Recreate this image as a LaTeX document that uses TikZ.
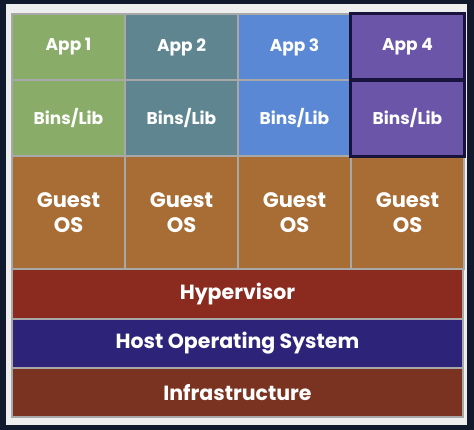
\documentclass[tikz,border=0pt]{standalone}
\usepackage{fontspec}
\setmainfont{Poppins}
\definecolor{navy}{HTML}{111A2C}
\definecolor{panel}{HTML}{EEEEEE}
\definecolor{grid}{HTML}{A8A8A8}
\definecolor{cA}{HTML}{89AC69}
\definecolor{cB}{HTML}{5F8690}
\definecolor{cC}{HTML}{5A88D5}
\definecolor{cD}{HTML}{6A55A8}
\definecolor{rim}{HTML}{17133C}
\definecolor{gos}{HTML}{A86C35}
\definecolor{hyp}{HTML}{8B2A1F}
\definecolor{host}{HTML}{2D2479}
\definecolor{infra}{HTML}{7A3321}

\begin{document}
\begin{tikzpicture}[x=1pt,y=-1pt,
  cell/.style={rectangle,draw=grid,line width=1.4pt,text=white,inner sep=0pt,align=center,minimum width=113pt},
  small/.style={font=\bfseries\fontsize{17}{20}\selectfont},
  big/.style={font=\bfseries\fontsize{21}{25}\selectfont},
  layer/.style={cell,minimum width=451pt,minimum height=49pt,font=\bfseries\fontsize{20.5}{22}\selectfont}]

% ---------- frame ----------
\fill[navy] (0,0) rectangle (474,430);
\fill[panel] (6,4) rectangle (467,425);

% ---------- the four stacks ----------
\foreach \i/\c in {1/cA,2/cB,3/cC,4/cD}{
  \node[cell,small,fill=\c,minimum height=66pt] (app\i) at ({12+113*(\i-0.5)},47) {App \i};
  \node[cell,small,fill=\c,minimum height=76pt] (bins\i) at ({12+113*(\i-0.5)},118) {Bins/Lib};
  \node[cell,big,fill=gos,minimum height=113pt] (guest\i) at ({12+113*(\i-0.5)},212.5) {Guest\\OS};
}
\draw[rim,line width=2.8pt] (app4.north west) rectangle (app4.south east);
\draw[rim,line width=2.8pt] (bins4.north west) rectangle (bins4.south east);

% ---------- shared layers ----------
\node[layer,fill=hyp] (hyper) at (237.5,294) {Hypervisor};
\node[layer,fill=host] (hostos) at (237.5,343.5) {Host Operating System};
\node[layer,fill=infra] (infra) at (237.5,392.5) {Infrastructure};
\end{tikzpicture}
\end{document}
